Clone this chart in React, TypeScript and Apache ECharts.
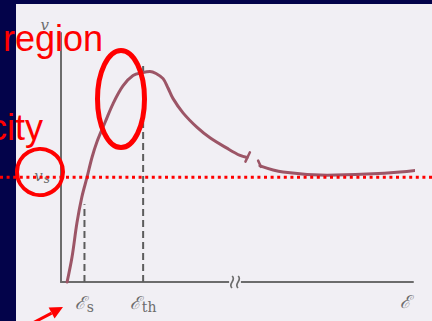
import React, { useEffect, useRef } from "react";
import * as echarts from "echarts";

const W = 432;
const H = 321;

// Drift velocity (1e7 cm/s) against electric field (arbitrary field units)
const fieldSat = 1.0; // ℰs
const fieldTh = 3.5; // ℰth
const vSat = 1.0; // vs
const fieldMax = 15;
const velMax = 2.4;

const lowFieldBranch: [number, number][] = [
  [0.26, 0], [0.47, 0.24], [0.68, 0.57], [0.89, 0.82], [1.11, 1.01],
  [1.32, 1.2], [1.53, 1.35], [1.88, 1.54], [2.22, 1.72], [2.64, 1.89],
  [3.07, 1.99], [3.49, 2.02], [3.79, 2.03], [4.05, 2.01], [4.35, 1.96],
  [4.56, 1.87], [4.77, 1.77], [5.2, 1.63], [5.8, 1.49], [6.35, 1.39],
  [7.07, 1.29], [7.63, 1.22], [7.93, 1.2],
];
const highFieldBranch: [number, number][] = [
  [8.48, 1.12], [9.46, 1.06], [11.34, 1.03], [13.04, 1.04], [14.45, 1.06], [15.6, 1.09],
];
const branchEndTick: [number, number][] = [[8.05, 1.25], [7.86, 1.16]];
const branchStartTick: [number, number][] = [[8.4, 1.17], [8.52, 1.11]];
const satGuide: [number, number][] = [[fieldSat, 0], [fieldSat, 0.75]];
const thGuide: [number, number][] = [[fieldTh, 0], [fieldTh, 2.12]];
const axisBreak: [number, number] = [7.12, 7.71];

const xTickLabels: Record<string, string> = {
  [String(fieldSat)]: "{e|ℰ}{s|s}",
  [String(fieldTh)]: "{e|ℰ}{s|th}",
};
const yTickLabels: Record<string, string> = { [String(vSat)]: "{v|v}{s|s}" };

const PAPER = "#f1eff4";
const INK = "#6c6c6c";
const CURVE = "#9c5566";
const RED = "#ff0000";

export default function App() {
  const ref = useRef<HTMLDivElement>(null);

  useEffect(() => {
    if (!ref.current) return;
    const chart = echarts.init(ref.current, undefined, { renderer: "svg" });

    const curveLine = (data: [number, number][], width = 3) => ({
      type: "line",
      data,
      smooth: 0.35,
      showSymbol: false,
      clip: false,
      silent: true,
      lineStyle: { color: CURVE, width, cap: "round" },
      z: 3,
    });
    const guideLine = (data: [number, number][]) => ({
      type: "line",
      data,
      showSymbol: false,
      silent: true,
      lineStyle: { color: "#5c5c5c", width: 2, type: [7, 4] },
      z: 2,
    });

    chart.setOption({
      animation: false,
      backgroundColor: "transparent",
      grid: { left: 61, right: 19, top: 33, bottom: 39 },
      xAxis: {
        type: "value",
        min: 0,
        max: fieldMax,
        axisLine: { show: true, lineStyle: { color: INK, width: 2 } },
        axisTick: { show: false },
        splitLine: { show: false },
        axisLabel: {
          customValues: [fieldSat, fieldTh],
          formatter: (v: number) => xTickLabels[String(v)] ?? "",
          margin: 9,
          rich: {
            e: { fontFamily: "DejaVu Serif", fontSize: 18, fontStyle: "italic", color: INK },
            s: { fontFamily: "DejaVu Serif", fontSize: 14, color: INK, padding: [9, 0, 0, 1] },
          },
        },
        name: "ℰ",
        nameLocation: "end",
        nameGap: -8,
        nameTextStyle: {
          fontFamily: "DejaVu Serif",
          fontSize: 18,
          fontStyle: "italic",
          color: INK,
          align: "center",
          verticalAlign: "top",
          padding: [10, 0, 0, 0],
        },
      },
      yAxis: {
        type: "value",
        min: 0,
        max: velMax,
        axisLine: { show: true, lineStyle: { color: INK, width: 2 } },
        axisTick: { show: false },
        splitLine: { show: false },
        axisLabel: {
          customValues: [vSat],
          formatter: (v: number) => yTickLabels[String(v)] ?? "",
          margin: 11,
          padding: [0, 0, 5, 0],
          rich: {
            v: { fontFamily: "DejaVu Serif", fontSize: 15, fontStyle: "italic", color: INK },
            s: { fontFamily: "DejaVu Serif", fontSize: 12, fontStyle: "italic", color: INK, padding: [6, 0, 0, 1] },
          },
        },
        name: "v",
        nameLocation: "end",
        nameGap: 1,
        nameTextStyle: {
          fontFamily: "DejaVu Serif",
          fontSize: 15,
          fontStyle: "italic",
          color: INK,
          align: "right",
          padding: [0, 12, 0, 0],
        },
      },
      series: [
        guideLine(satGuide),
        guideLine(thGuide),
        curveLine(lowFieldBranch),
        curveLine(highFieldBranch),
        curveLine(branchEndTick, 2.5),
        curveLine(branchStartTick, 2.5),
      ],
    });

    const px = (x: number, y: number) =>
      chart.convertToPixel({ gridIndex: 0 }, [x, y]) as number[];
    const [bx0, by] = px(axisBreak[0], 0);
    const [bx1] = px(axisBreak[1], 0);
    const vsY = px(0, vSat)[1] - 1;

    const squiggle = (x: number) => ({
      type: "bezierCurve",
      shape: { x1: x + 2, y1: by - 6, cpx1: x + 7, cpy1: by - 2, cpx2: x - 3, cpy2: by + 2, x2: x + 2, y2: by + 6 },
      style: { stroke: INK, lineWidth: 1.6, fill: "none" },
      z: 5,
    });

    // arrow pointing up-right at the field axis
    const tip = [63, 307];
    const base = [51.6, 313.1];
    const redText = (text: string, x: number, y: number, align: string) => ({
      type: "text",
      x,
      y,
      style: {
        text,
        fill: RED,
        font: "36px 'Liberation Sans', Arial, sans-serif",
        textAlign: align,
        textVerticalAlign: "top",
      },
      z: 100,
    });

    chart.setOption({
      graphic: [
        { type: "rect", shape: { x: bx0 + 1, y: by - 4, width: bx1 - bx0 - 2, height: 8 }, style: { fill: PAPER }, z: 4 },
        squiggle(bx0 + 2),
        squiggle(bx0 + 8),
        {
          type: "line",
          shape: { x1: 0, y1: vsY, x2: W, y2: vsY },
          style: { stroke: RED, lineWidth: 3, lineDash: [3, 3.6] },
          z: 100,
        },
        {
          type: "circle",
          shape: { cx: 40, cy: 172, r: 23 },
          style: { fill: "none", stroke: RED, lineWidth: 4 },
          z: 100,
        },
        {
          type: "ellipse",
          shape: { cx: 121, cy: 99, rx: 23.5, ry: 48.5 },
          style: { fill: "none", stroke: RED, lineWidth: 5 },
          z: 100,
        },
        redText("region", 3, 20, "left"),
        redText("city", 43, 109, "right"),
        {
          type: "line",
          shape: { x1: 28, y1: 325.5, x2: base[0], y2: base[1] },
          style: { stroke: RED, lineWidth: 3 },
          z: 100,
        },
        {
          type: "polygon",
          shape: { points: [tip, [54.6, 318.6], [48.6, 307.6]] },
          style: { fill: RED },
          z: 100,
        },
      ],
    });

    return () => chart.dispose();
  }, []);

  return (
    <div style={{ position: "fixed", left: 0, top: 0, width: W, height: H, background: "#03034a", overflow: "hidden" }}>
      <div style={{ position: "absolute", left: 16, top: 4, right: 0, bottom: 0, background: PAPER }} />
      <div ref={ref} style={{ position: "absolute", left: 0, top: 0, width: W, height: H }} />
    </div>
  );
}
